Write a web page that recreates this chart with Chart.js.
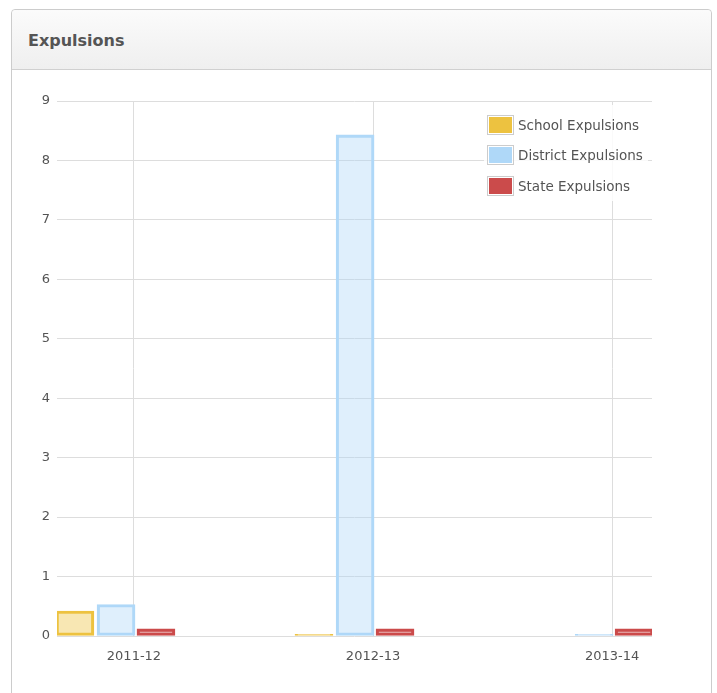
<!DOCTYPE html>
<html>
<head>
<meta charset="utf-8">
<script src="https://cdn.jsdelivr.net/npm/chart.js@4/dist/chart.umd.min.js"></script>
<style>
  html, body { margin:0; padding:0; background:#fff; width:717px; height:693px; overflow:hidden; font-family:"DejaVu Sans", Verdana, sans-serif; }
  #panel { position:absolute; left:11px; top:9px; width:699px; height:700px; border:1px solid #cccccc; border-radius:4px 4px 0 0; background:#fff; z-index:0; }
  #header { position:absolute; left:0; top:0; width:699px; height:59px; border-bottom:1px solid #d0d0d0; border-radius:4px 4px 0 0; background:linear-gradient(#fbfbfb, #efefef); }
  #title { position:absolute; left:16px; top:21px; font-weight:bold; font-size:16px; color:#555; }
  #wrap { position:absolute; left:0; top:0; width:717px; height:693px; z-index:1; }
  #legend { position:absolute; left:484px; top:105px; width:164px; height:96px; background:rgba(255,255,255,0.85); z-index:2; }
  .row { position:absolute; left:3px; height:20px; display:flex; align-items:center; }
  .box { width:23px; height:16px; padding:1px; border:1px solid #ccc; }
  .sw { width:23px; height:16px; }
  .lbl { margin-left:4px; font-size:13.5px; color:#545454; white-space:nowrap; }
</style>
</head>
<body>
<div id="panel"><div id="header"><div id="title">Expulsions</div></div></div>
<div id="wrap"><canvas id="c" width="717" height="693"></canvas></div>
<div id="legend"></div>
<script>
const categories = ["2011-12", "2012-13", "2013-14"];
const seriesNames = ["School Expulsions", "District Expulsions", "State Expulsions"];
const schoolExpulsions = [0.42, 0.03, 0];
const districtExpulsions = [0.53, 8.43, 0.03];
const stateExpulsions = [0.12, 0.12, 0.12];
const yTicks = [0, 1, 2, 3, 4, 5, 6, 7, 8, 9];

const seriesColors = [[237,194,64],[175,216,248],[203,75,75]];
const barOffsets = [-0.247, -0.075, 0.092];
const seriesValues = [schoolExpulsions, districtExpulsions, stateExpulsions];

const datasets = seriesValues.map((vals, s) => {
  const c = seriesColors[s];
  return {
    label: seriesNames[s],
    data: vals.map((v, i) => ({ x: i + barOffsets[s], y: v })),
    backgroundColor: `rgba(${c[0]},${c[1]},${c[2]},0.4)`,
    borderColor: `rgb(${c[0]},${c[1]},${c[2]})`,
    borderWidth: 2.5,
    borderSkipped: false,
    barThickness: 38,
    grouped: false
  };
});

const tickFont = { family: "DejaVu Sans", size: 13 };

new Chart(document.getElementById('c'), {
  type: 'bar',
  data: { datasets },
  options: {
    responsive: false,
    animation: false,
    devicePixelRatio: 1,
    layout: { padding: { left: 0, right: 65, top: 101, bottom: 0 } },
    plugins: { legend: { display: false }, tooltip: { enabled: false } },
    scales: {
      x: {
        type: 'linear',
        offset: false,
        min: -0.322,
        max: 2.167,
        afterBuildTicks: (scale) => { scale.ticks = categories.map((_, i) => ({ value: i })); },
        afterFit: (scale) => { scale.height = 57; },
        ticks: { callback: (v) => categories[v], color: '#545454', font: tickFont, padding: 13, maxRotation: 0 },
        grid: { offset: false, color: '#dddddd', lineWidth: 1, drawTicks: false },
        border: { display: false }
      },
      y: {
        min: 0,
        max: 9,
        afterBuildTicks: (scale) => { scale.ticks = yTicks.map(v => ({ value: v })); },
        afterFit: (scale) => { scale.width = 57; },
        ticks: { color: '#545454', font: tickFont, padding: 7 },
        grid: { color: '#dddddd', lineWidth: 1, drawTicks: false },
        border: { display: false }
      }
    }
  }
});

const legend = document.getElementById('legend');
const rowCenters = [124.7, 155.3, 186];
seriesNames.forEach((name, s) => {
  const c = seriesColors[s];
  const row = document.createElement('div');
  row.className = 'row';
  row.style.top = (rowCenters[s] - 10 - 105) + 'px';
  row.innerHTML = `<div class="box"><div class="sw" style="background:rgb(${c[0]},${c[1]},${c[2]})"></div></div><div class="lbl">${name}</div>`;
  legend.appendChild(row);
});
</script>
</body>
</html>
